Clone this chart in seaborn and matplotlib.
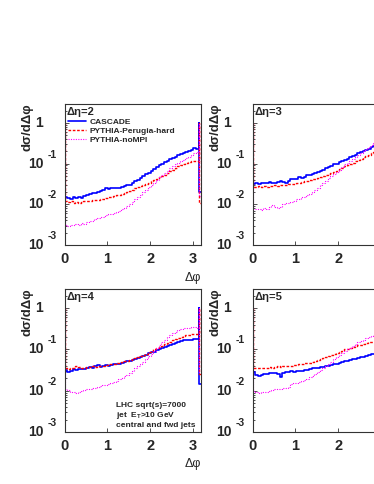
import numpy as np
import pandas as pd
import matplotlib
matplotlib.use("Agg")
import matplotlib.pyplot as plt
import matplotlib.transforms as mtransforms
from matplotlib.ticker import LogLocator, NullLocator, NullFormatter
import seaborn as sns

# Delta phi histograms: 50 bins from 0 to pi, plus one overflow bin up to 3.3
n_bins = 50
phi_max = np.pi
overflow_edge = 3.3

series_names = ["CASCADE", "PYTHIA-Perugia-hard", "PYTHIA-noMPI"]
panel_labels = ["Δη=2", "Δη=3", "Δη=4", "Δη=5"]
info_lines = ["LHC sqrt(s)=7000", r"jet  E$_{\mathbf{T}}$>10 GeV", "central and fwd jets"]
x_ticks = [0, 1, 2, 3]

# log10(dsigma/dDeltaphi) per bin
cascade_deta2 = [-1.83, -1.84, -1.86, -1.81, -1.84, -1.83, -1.84, -1.80, -1.78, -1.75,
                 -1.73, -1.72, -1.70, -1.67, -1.65, -1.61, -1.63, -1.61, -1.61, -1.61,
                 -1.60, -1.58, -1.56, -1.53, -1.52, -1.48, -1.43, -1.40, -1.35, -1.31,
                 -1.25, -1.22, -1.17, -1.13, -1.09, -1.04, -1.01, -0.97, -0.93, -0.89,
                 -0.86, -0.83, -0.80, -0.76, -0.74, -0.71, -0.70, -0.66, -0.61, -0.64]
perugia_deta2 = [-1.93, -1.94, -1.93, -1.96, -1.94, -1.98, -1.94, -1.93, -1.91, -1.91,
                 -1.89, -1.90, -1.89, -1.87, -1.86, -1.84, -1.83, -1.81, -1.80, -1.78,
                 -1.76, -1.74, -1.72, -1.70, -1.67, -1.65, -1.61, -1.58, -1.56, -1.53,
                 -1.50, -1.47, -1.43, -1.40, -1.37, -1.34, -1.30, -1.27, -1.23, -1.19,
                 -1.15, -1.11, -1.07, -1.04, -1.01, -0.98, -0.96, -0.94, -0.93, -0.93]
nompi_deta2 = [-2.52, -2.53, -2.50, -2.52, -2.48, -2.50, -2.47, -2.48, -2.43, -2.40,
               -2.42, -2.37, -2.34, -2.30, -2.32, -2.27, -2.24, -2.25, -2.22, -2.19,
               -2.16, -2.12, -2.09, -2.04, -1.99, -1.94, -1.88, -1.83, -1.76, -1.70,
               -1.65, -1.58, -1.53, -1.47, -1.40, -1.34, -1.29, -1.23, -1.17, -1.12,
               -1.07, -1.02, -0.98, -0.94, -0.90, -0.86, -0.83, -0.80, -0.75, -0.71]

cascade_deta3 = [-1.50, -1.48, -1.49, -1.47, -1.48, -1.48, -1.45, -1.47, -1.48, -1.46,
                 -1.43, -1.45, -1.47, -1.43, -1.39, -1.38, -1.37, -1.34, -1.35, -1.32,
                 -1.29, -1.27, -1.25, -1.22, -1.20, -1.17, -1.15, -1.12, -1.09, -1.07,
                 -1.02, -1.00, -0.97, -0.94, -0.91, -0.88, -0.84, -0.82, -0.79, -0.75,
                 -0.72, -0.70, -0.66, -0.63, -0.60, -0.57, -0.55, -0.52, -0.50, -0.48]
perugia_deta3 = [-1.57, -1.58, -1.56, -1.57, -1.55, -1.57, -1.54, -1.56, -1.53, -1.55,
                 -1.53, -1.52, -1.53, -1.50, -1.50, -1.49, -1.48, -1.47, -1.45, -1.43,
                 -1.42, -1.40, -1.39, -1.37, -1.35, -1.33, -1.30, -1.28, -1.25, -1.22,
                 -1.20, -1.17, -1.14, -1.11, -1.07, -1.04, -1.01, -0.98, -0.94, -0.91,
                 -0.88, -0.84, -0.81, -0.78, -0.75, -0.71, -0.68, -0.66, -0.63, -0.61]
nompi_deta3 = [-2.11, -2.12, -2.11, -2.13, -2.09, -2.11, -2.06, -2.02, -2.07, -2.09,
               -2.06, -1.99, -1.98, -1.96, -1.94, -1.91, -1.88, -1.86, -1.83, -1.81,
               -1.78, -1.75, -1.70, -1.65, -1.60, -1.53, -1.48, -1.42, -1.35, -1.30,
               -1.25, -1.20, -1.15, -1.09, -1.02, -0.98, -0.93, -0.88, -0.83, -0.78,
               -0.74, -0.70, -0.65, -0.60, -0.55, -0.50, -0.47, -0.43, -0.40, -0.38]

cascade_deta4 = [-1.50, -1.54, -1.53, -1.48, -1.49, -1.48, -1.47, -1.48, -1.45, -1.43,
                 -1.45, -1.40, -1.38, -1.43, -1.41, -1.38, -1.40, -1.37, -1.36, -1.35,
                 -1.35, -1.32, -1.30, -1.28, -1.27, -1.25, -1.23, -1.20, -1.18, -1.15,
                 -1.13, -1.09, -1.07, -1.05, -1.02, -1.00, -0.97, -0.95, -0.92, -0.90,
                 -0.87, -0.84, -0.82, -0.80, -0.78, -0.78, -0.77, -0.76, -0.74, -0.75]
perugia_deta4 = [-1.46, -1.48, -1.46, -1.45, -1.40, -1.42, -1.45, -1.44, -1.43, -1.42,
                 -1.41, -1.42, -1.40, -1.41, -1.39, -1.38, -1.36, -1.36, -1.35, -1.33,
                 -1.32, -1.31, -1.29, -1.27, -1.26, -1.23, -1.21, -1.18, -1.16, -1.13,
                 -1.10, -1.07, -1.04, -1.00, -0.97, -0.94, -0.91, -0.87, -0.84, -0.81,
                 -0.78, -0.74, -0.72, -0.69, -0.67, -0.65, -0.64, -0.63, -0.62, -0.62]
nompi_deta4 = [-1.95, -1.99, -2.02, -2.03, -2.05, -2.02, -2.00, -1.99, -1.97, -1.95,
               -1.94, -1.94, -1.90, -1.89, -1.87, -1.85, -1.83, -1.81, -1.79, -1.76,
               -1.72, -1.69, -1.65, -1.61, -1.57, -1.51, -1.46, -1.41, -1.36, -1.30,
               -1.23, -1.17, -1.10, -1.03, -0.96, -0.89, -0.83, -0.77, -0.71, -0.66,
               -0.61, -0.57, -0.54, -0.51, -0.49, -0.47, -0.47, -0.46, -0.45, -0.47]

cascade_deta5 = [-1.54, -1.63, -1.64, -1.61, -1.59, -1.59, -1.58, -1.58, -1.58, -1.59,
                 -1.66, -1.56, -1.54, -1.54, -1.53, -1.54, -1.52, -1.51, -1.51, -1.50,
                 -1.49, -1.48, -1.46, -1.45, -1.45, -1.43, -1.42, -1.41, -1.40, -1.38,
                 -1.36, -1.35, -1.32, -1.30, -1.28, -1.27, -1.25, -1.23, -1.22, -1.21,
                 -1.19, -1.18, -1.16, -1.14, -1.12, -1.10, -1.09, -1.08, -1.07, -1.06]
perugia_deta5 = [-1.45, -1.46, -1.45, -1.45, -1.45, -1.44, -1.43, -1.44, -1.42, -1.41,
                 -1.42, -1.41, -1.41, -1.40, -1.39, -1.38, -1.37, -1.36, -1.35, -1.34,
                 -1.33, -1.32, -1.30, -1.27, -1.25, -1.23, -1.20, -1.18, -1.15, -1.13,
                 -1.10, -1.08, -1.05, -1.03, -1.00, -0.98, -0.96, -0.94, -0.92, -0.90,
                 -0.88, -0.87, -0.85, -0.83, -0.82, -0.81, -0.79, -0.78, -0.76, -0.74]
nompi_deta5 = [-2.00, -2.03, -2.05, -2.02, -2.03, -2.02, -2.00, -1.99, -1.97, -1.97,
               -1.95, -1.94, -1.94, -1.92, -1.84, -1.82, -1.81, -1.79, -1.76, -1.73,
               -1.71, -1.67, -1.64, -1.59, -1.54, -1.50, -1.45, -1.40, -1.35, -1.30,
               -1.24, -1.18, -1.14, -1.09, -1.04, -1.00, -0.96, -0.92, -0.87, -0.83,
               -0.79, -0.76, -0.73, -0.69, -0.67, -0.65, -0.62, -0.60, -0.57, -0.55]

# ROOT draws the histogram ends up to ~1 and then the overflow bin
edge_log = 0.0
tail_deta2 = [-1.69, -1.97, -1.80]
tail_deta3 = [-1.60, -1.75, -1.70]
tail_deta4 = [-1.84, -1.60, -1.55]
tail_deta5 = [-1.75, -1.70, -1.65]

panels = [
    ([cascade_deta2, perugia_deta2, nompi_deta2], tail_deta2),
    ([cascade_deta3, perugia_deta3, nompi_deta3], tail_deta3),
    ([cascade_deta4, perugia_deta4, nompi_deta4], tail_deta4),
    ([cascade_deta5, perugia_deta5, nompi_deta5], tail_deta5),
]

colors = ["#0000ff", "#ff0000", "#ff00ff"]
widths = [1.2, 1.0, 0.8]
styles = ["-", (0, (1.9, 1.2)), (0, (1.0, 1.2))]

sns.set_style("ticks")
plt.rcParams["font.family"] = ["Liberation Sans", "DejaVu Sans"]
plt.rcParams["mathtext.fontset"] = "custom"
plt.rcParams["mathtext.rm"] = "Liberation Sans:bold"
plt.rcParams["mathtext.bf"] = "Liberation Sans:bold"
frame_col = "#333333"


def step_frame(logvals, tail):
    edges = np.linspace(0, phi_max, n_bins + 1)
    v = 10 ** np.asarray(logvals)
    top = 10 ** edge_log
    x = np.concatenate([[0.0], np.repeat(edges, 2)[1:-1], [phi_max, phi_max, overflow_edge]])
    y = np.concatenate([[top], np.repeat(v, 2), [top, 10 ** tail, 10 ** tail]])
    return pd.DataFrame({"phi": x, "dsig": y})


fig = plt.figure(figsize=(3.74, 4.84), dpi=100)
W, H = 374.0, 484.0
lefts = [64.7, 252.7, 64.7, 252.7]
rows = [(103.5, 245.0), (103.5, 245.0), (288.5, 432.0), (288.5, 432.0)]
ax_w = 136.6

for k, (series, tails) in enumerate(panels):
    top_px, bot_px = rows[k]
    right_col = k % 2 == 1
    ax = fig.add_axes([lefts[k] / W, (H - bot_px) / H, ax_w / W, (bot_px - top_px) / H])
    for name, vals, tail, c, lw, ls in zip(series_names, series, tails, colors, widths, styles):
        df = step_frame(vals, tail)
        sns.lineplot(data=df, x="phi", y="dsig", sort=False, estimator=None, color=c,
                     lw=lw, linestyle=ls, label=name, ax=ax)
    ax.set_yscale("log")
    ax.set_xlim(0, 3.2)
    ax.set_ylim(1e-3, 3.0)
    ax.set_xlabel("")
    ax.set_ylabel("")
    if ax.get_legend() is not None:
        ax.get_legend().remove()

    for s in ax.spines.values():
        s.set_visible(True)
        s.set_color(frame_col)
        s.set_linewidth(0.8)
    ax.set_xticks(x_ticks)
    # the right column is cut at the picture edge: its last label lies outside
    ax.set_xticklabels([str(t) if not (right_col and t == 3) else "" for t in x_ticks])
    ax.xaxis.set_minor_locator(NullLocator())
    ax.yaxis.set_major_locator(LogLocator(base=10, numticks=10))
    ax.yaxis.set_minor_locator(LogLocator(base=10, subs=np.arange(2, 10), numticks=20))
    ax.yaxis.set_minor_formatter(NullFormatter())
    ax.tick_params(axis="both", which="both", direction="in", color=frame_col, width=0.6,
                   top=False, right=False)
    ax.tick_params(axis="both", which="major", length=3.2)
    ax.tick_params(axis="y", which="minor", length=1.6)
    ax.tick_params(axis="y", labelleft=False)
    ax.tick_params(axis="x", pad=5, labelsize=10.5)
    for t in ax.get_xticklabels():
        t.set_fontweight("bold")

    # ROOT style log labels: "1", "10" with raised exponent
    for d in [-3, -2, -1, 0]:
        if d == 0:
            tr = mtransforms.offset_copy(ax.get_yaxis_transform(), fig=fig, x=-26, y=0, units="dots")
            ax.text(0, 1.0, "1", transform=tr, ha="center", va="center", fontsize=10, fontweight="bold")
        else:
            tr = mtransforms.offset_copy(ax.get_yaxis_transform(), fig=fig, x=-21.4, y=0, units="dots")
            ax.text(0, 10.0 ** d, "10", transform=tr, ha="right", va="center", fontsize=10, fontweight="bold")
            tr2 = mtransforms.offset_copy(ax.get_yaxis_transform(), fig=fig, x=-16.7, y=9, units="dots")
            ax.text(0, 10.0 ** d, str(d), transform=tr2, ha="left", va="center", fontsize=7.5, fontweight="bold")

    ax.text(-37.5 / ax_w, 1.0, "dσ/dΔφ", transform=ax.transAxes, rotation=90, ha="center",
            va="top", fontsize=9.5, fontweight="bold")
    if not right_col:
        ax.text(1.0, -32.5 / (bot_px - top_px), "Δφ", transform=ax.transAxes, ha="right",
                va="center", fontsize=9)
    ax.text(0.012, 0.94, panel_labels[k], transform=ax.transAxes, ha="left", va="center",
            fontsize=8, fontweight="bold")

    if k == 0:
        handles, labels = ax.get_legend_handles_labels()
        ax.legend(handles, labels, loc="upper left", bbox_to_anchor=(0.024, 0.895),
                  borderaxespad=0, borderpad=0, frameon=False, handlelength=2.2,
                  handletextpad=0.4, labelspacing=0.15,
                  prop={"family": "Liberation Sans", "weight": "bold", "size": 6})
    if k == 2:
        for line, yy in zip(info_lines, [0.188, 0.114, 0.044]):
            ax.text(0.375, yy, line, transform=ax.transAxes, ha="left", va="center",
                    fontsize=6, fontweight="bold")

fig.savefig("out.png", dpi=100)
